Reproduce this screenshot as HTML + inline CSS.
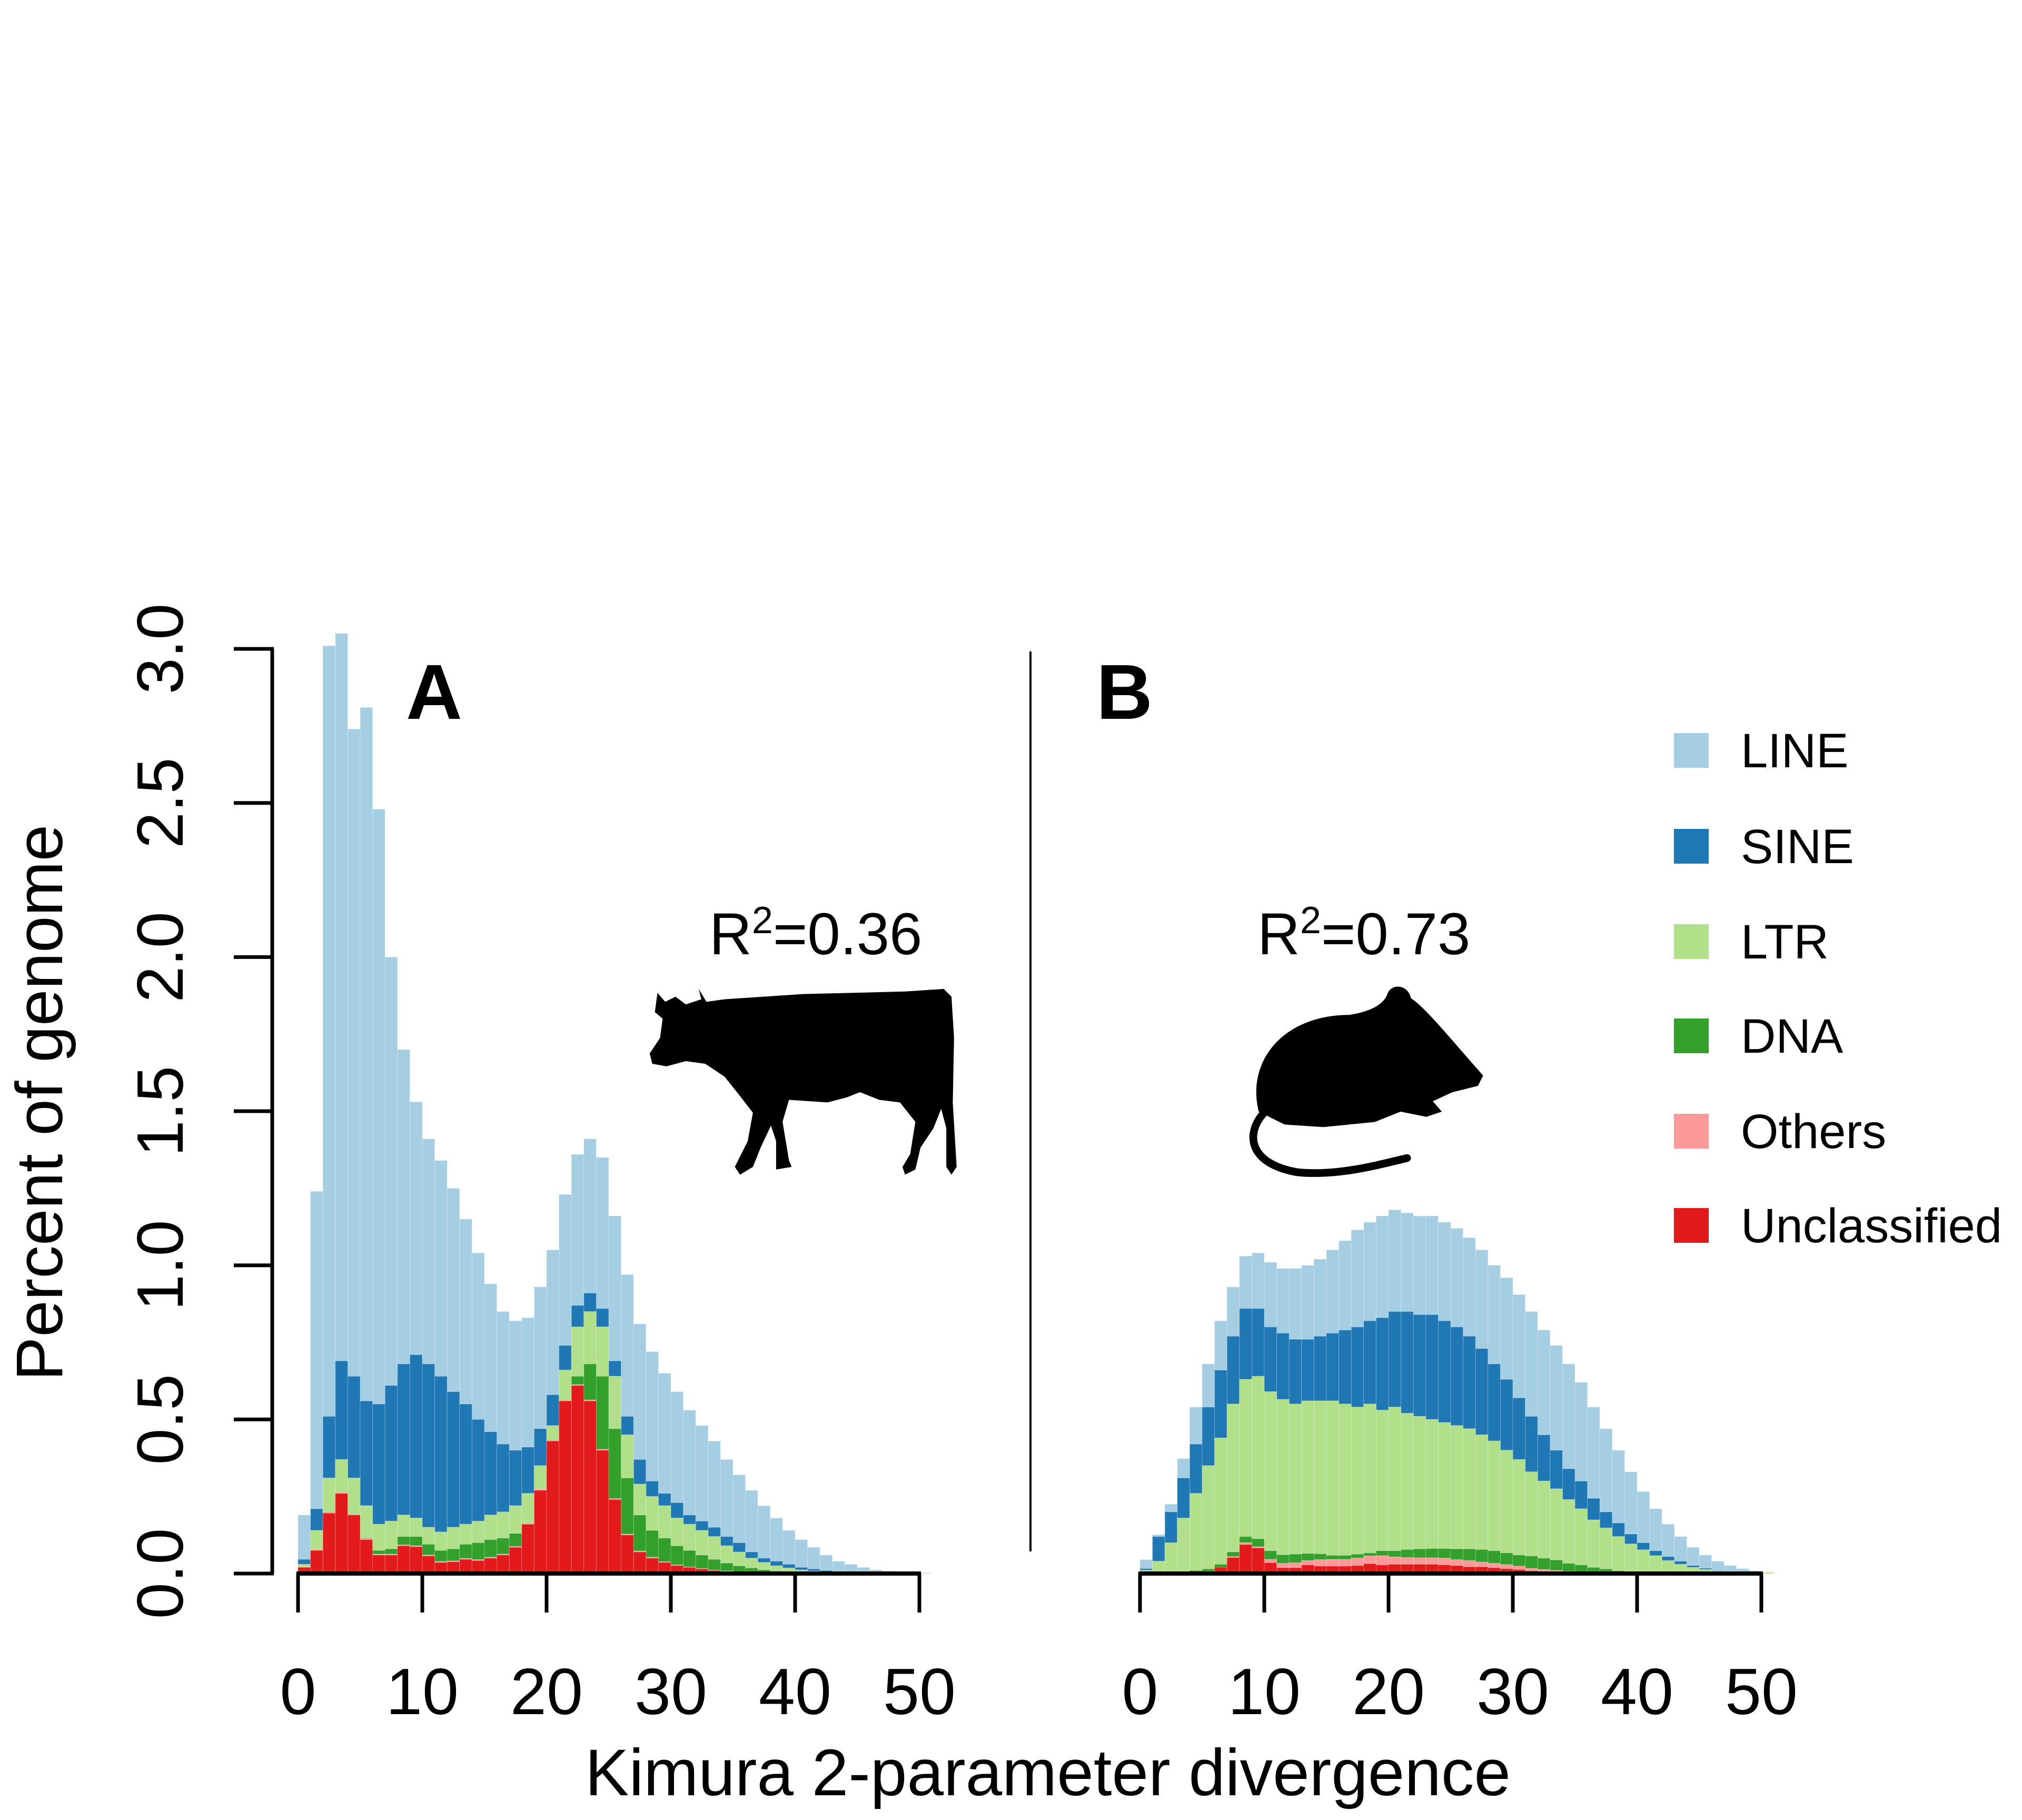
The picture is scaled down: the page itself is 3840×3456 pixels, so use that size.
<!DOCTYPE html>
<html><head><meta charset="utf-8">
<style>
html,body{margin:0;padding:0;background:#fff;}
svg{display:block;font-family:"Liberation Sans",Arial,sans-serif;}
</style></head>
<body>
<svg id="chart" width="3840" height="3456" viewBox="0 0 3840 3456" xmlns="http://www.w3.org/2000/svg">
<g id="panelA"></g>
<g id="panelB"></g>
<g id="axes"></g>
<text x="771" y="1365" font-size="148" font-weight="bold">A</text>
<text x="2082" y="1365" font-size="148" font-weight="bold">B</text>
<text x="1347" y="1812" font-size="112">R<tspan font-size="72" dy="-40">2</tspan><tspan dy="40">=0.36</tspan></text>
<text x="2388" y="1812" font-size="112">R<tspan font-size="72" dy="-40">2</tspan><tspan dy="40">=0.73</tspan></text>
<g transform="translate(1229,1873) scale(2.449)">
<path fill="#000" d="M8,5 L14,12 L22,8 L30,14 L42,10 L40,2 L46,12 L60,10 L120,6 L200,4 L230,2 L236,8 L238,40 L237,90 L240,140 L236,146 L232,140 L232,110 L228,95 L222,110 L212,125 L208,142 L200,146 L198,140 L204,130 L208,105 L196,90 L180,88 L165,82 L155,86 L140,90 L110,88 L105,105 L110,135 L112,140 L100,142 L100,120 L96,108 L88,125 L82,140 L72,146 L68,140 L78,120 L82,98 L72,85 L60,70 L45,60 L30,58 L15,62 L4,60 L2,52 L10,40 L12,25 L6,20 Z"/>
</g>
<g transform="translate(2366,1866) scale(2.449)">
<path fill="#000" d="M10,100 C0,60 30,25 80,25 C100,22 108,15 110,8 C114,0 126,2 128,12 C140,20 160,45 184,72 L180,80 L160,85 L145,92 L152,100 L140,104 L120,100 L100,108 L60,112 L30,110 Z"/>
<path fill="none" stroke="#000" stroke-width="6" stroke-linecap="round" d="M15,100 C0,115 0,140 40,147 C70,150 100,142 125,136"/>
</g>
<g id="legend"></g>
<text x="1990" y="3409" font-size="125" text-anchor="middle">Kimura 2-parameter divergence</text>
<text x="118" y="2094" font-size="125" text-anchor="middle" transform="rotate(-90 118 2094)">Percent of genome</text>
</svg>
<script>
// Stacked (cumulative) top values per bin, Kimura divergence bins 0..50
const aLineTop = [0.19,1.24,3.01,3.05,2.74,2.81,2.48,2.0,1.70,1.53,1.41,1.34,1.25,1.15,1.04,0.94,0.85,0.82,0.83,0.93,1.05,1.23,1.36,1.41,1.35,1.16,0.97,0.81,0.72,0.65,0.59,0.53,0.48,0.43,0.37,0.32,0.27,0.22,0.18,0.14,0.11,0.085,0.06,0.04,0.03,0.02,0.012,0.008,0.005,0.003,0.002];
const aSineTop = [0.046,0.21,0.51,0.69,0.64,0.56,0.55,0.61,0.68,0.71,0.68,0.64,0.59,0.55,0.50,0.46,0.42,0.40,0.41,0.47,0.58,0.74,0.87,0.91,0.86,0.69,0.51,0.37,0.30,0.26,0.23,0.19,0.17,0.15,0.12,0.10,0.07,0.05,0.04,0.03,0.02,0.015,0.01,0.007,0.005,0.003,0.002,0.001,0.001,0.001,0];
const aLtrTop = [0.03,0.14,0.31,0.37,0.31,0.22,0.16,0.17,0.19,0.18,0.15,0.135,0.15,0.16,0.17,0.19,0.20,0.22,0.26,0.35,0.48,0.66,0.80,0.85,0.80,0.64,0.45,0.29,0.25,0.22,0.18,0.16,0.14,0.12,0.09,0.07,0.05,0.036,0.025,0.018,0.012,0.008,0.005,0.003,0.002,0.001,0.001,0,0,0,0];
const aDnaTop = [0.015,0.03,0.2,0.26,0.19,0.115,0.075,0.08,0.12,0.12,0.095,0.075,0.08,0.095,0.10,0.11,0.115,0.13,0.15,0.23,0.34,0.51,0.64,0.68,0.64,0.47,0.31,0.19,0.14,0.115,0.09,0.075,0.06,0.046,0.034,0.025,0.018,0.012,0.008,0.005,0.003,0.002,0.001,0,0,0,0,0,0,0,0];
const aOthersTop = [0.022,0.078,0.199,0.263,0.193,0.113,0.063,0.063,0.093,0.09,0.06,0.039,0.041,0.049,0.045,0.053,0.063,0.088,0.163,0.273,0.433,0.563,0.613,0.563,0.403,0.243,0.128,0.073,0.053,0.038,0.028,0.021,0.016,0.011,0.008,0.006,0.003,0.002,0.001,0,0,0,0,0,0,0,0,0,0,0,0];
const aUnclTop = [0.02,0.075,0.196,0.26,0.19,0.11,0.06,0.06,0.09,0.087,0.057,0.036,0.038,0.046,0.042,0.05,0.06,0.085,0.16,0.27,0.43,0.56,0.61,0.56,0.40,0.24,0.125,0.07,0.05,0.036,0.026,0.02,0.015,0.01,0.007,0.005,0.002,0.001,0.001,0,0,0,0,0,0,0,0,0,0,0,0];

const bLineTop = [0.045,0.126,0.225,0.373,0.54,0.68,0.82,0.93,1.03,1.04,1.01,0.99,0.99,1.0,1.02,1.05,1.08,1.115,1.14,1.16,1.18,1.17,1.16,1.16,1.14,1.12,1.09,1.05,1.0,0.96,0.905,0.85,0.79,0.74,0.68,0.62,0.54,0.47,0.40,0.33,0.266,0.21,0.16,0.12,0.085,0.06,0.04,0.026,0.016,0.009,0.004];
const bSineTop = [0.016,0.12,0.2,0.31,0.42,0.54,0.66,0.77,0.86,0.86,0.80,0.78,0.76,0.76,0.77,0.78,0.79,0.80,0.82,0.83,0.85,0.85,0.84,0.84,0.82,0.80,0.77,0.73,0.68,0.63,0.57,0.51,0.45,0.40,0.34,0.30,0.244,0.20,0.164,0.128,0.10,0.074,0.055,0.04,0.026,0.017,0.011,0.007,0.004,0.002,0.004];
const bLtrTop = [0.011,0.04,0.1,0.18,0.26,0.35,0.44,0.55,0.63,0.64,0.59,0.565,0.55,0.56,0.56,0.56,0.55,0.54,0.55,0.53,0.54,0.52,0.51,0.50,0.49,0.48,0.47,0.45,0.43,0.40,0.37,0.33,0.30,0.275,0.24,0.21,0.174,0.148,0.12,0.096,0.077,0.058,0.042,0.03,0.02,0.013,0.009,0.006,0.004,0.002,0.004];
const bDnaTop = [0.002,0.003,0.005,0.007,0.01,0.015,0.03,0.07,0.12,0.113,0.074,0.061,0.063,0.065,0.064,0.059,0.059,0.063,0.067,0.074,0.074,0.078,0.08,0.081,0.081,0.08,0.08,0.078,0.074,0.067,0.06,0.057,0.05,0.044,0.033,0.028,0.02,0.015,0.009,0.005,0.003,0.002,0.001,0,0,0,0,0,0,0,0];
const bOthersTop = [0.001,0.001,0.002,0.003,0.004,0.007,0.018,0.055,0.1,0.087,0.046,0.033,0.035,0.042,0.045,0.046,0.046,0.05,0.057,0.058,0.054,0.052,0.051,0.051,0.05,0.045,0.042,0.037,0.033,0.029,0.024,0.017,0.013,0.01,0.007,0.005,0.003,0.002,0.001,0.001,0.001,0,0,0,0,0,0,0,0,0,0];
const bUnclTop = [0,0,0.001,0.002,0.004,0.008,0.02,0.052,0.094,0.083,0.035,0.019,0.019,0.028,0.024,0.024,0.024,0.026,0.032,0.028,0.03,0.03,0.03,0.03,0.028,0.026,0.022,0.022,0.019,0.016,0.013,0.009,0.006,0.004,0.003,0.002,0.001,0.001,0.001,0,0,0,0,0,0,0,0,0,0,0,0];

const seriesNames = ["LINE","SINE","LTR","DNA","Others","Unclassified"];
const seriesColors = ["#a6cee3","#1f78b4","#b2df8a","#33a02c","#fb9a99","#e31a1c"];
const yTicks = [0,0.5,1.0,1.5,2.0,2.5,3.0];
const yTickLabels = ["0.0","0.5","1.0","1.5","2.0","2.5","3.0"];
const xTicks = [0,10,20,30,40,50];

const NS = "http://www.w3.org/2000/svg";
const Y0 = 2988, YPX = 585.3, XPX = 23.6;
function yScale(v){ return Y0 - v*YPX; }
function xScaleA(v){ return 566 + v*XPX; }
function xScaleB(v){ return 2165 + v*XPX; }
function mk(tag, attrs, parent){ const e=document.createElementNS(NS,tag); for(const k in attrs) e.setAttribute(k,attrs[k]); parent.appendChild(e); return e; }

function drawPanel(g, xs, tops, prefix){
  for(let s=0;s<tops.length;s++){
    const top=tops[s], below=tops[s+1];
    for(let i=0;i<top.length;i++){
      const lo = below ? below[i] : 0;
      const hi = top[i];
      if(hi<=lo) continue;
      const r = mk("rect",{x:xs(i),y:yScale(hi),width:XPX,height:yScale(lo)-yScale(hi),fill:seriesColors[s],stroke:"rgba(255,255,255,0.25)","stroke-width":1},g);
      
      
    }
  }
}
drawPanel(document.getElementById("panelA"), xScaleA, [aLineTop,aSineTop,aLtrTop,aDnaTop,aOthersTop,aUnclTop], "a");
drawPanel(document.getElementById("panelB"), xScaleB, [bLineTop,bSineTop,bLtrTop,bDnaTop,bOthersTop,bUnclTop], "b");

const ax = document.getElementById("axes");
// y axis
let l = mk("line",{x1:517,x2:517,y1:yScale(0),y2:yScale(3),stroke:"#000","stroke-width":7},ax);


yTicks.forEach((v,i)=>{
  const t = mk("line",{x1:444,x2:520,y1:yScale(v),y2:yScale(v),stroke:"#000","stroke-width":7},ax);
  
  
  const tx = mk("text",{x:347,y:yScale(v),"font-size":124,"text-anchor":"middle",transform:"rotate(-90 347 "+yScale(v)+")"},ax);
  tx.textContent = yTickLabels[i];
  
  
});
// x axes
[["a",xScaleA],["b",xScaleB]].forEach(([p,xs])=>{
  const a = mk("line",{x1:xs(0)-3,x2:xs(50)+3,y1:Y0,y2:Y0,stroke:"#000","stroke-width":8},ax);
  
  
  xTicks.forEach(v=>{
    const t = mk("line",{x1:xs(v),x2:xs(v),y1:Y0,y2:3062,stroke:"#000","stroke-width":7},ax);
    
    
    const tx = mk("text",{x:xs(v),y:3255,"font-size":124,"text-anchor":"middle"},ax);
    tx.textContent = String(v);
    
    
  });
});
// divider
const d = mk("line",{x1:1957,x2:1957,y1:1237,y2:2946,stroke:"#000","stroke-width":4},ax);



// legend
const lg = document.getElementById("legend");
const legendY = [1425,1607,1788,1967,2148,2327];
seriesNames.forEach((n,i)=>{
  const r = mk("rect",{x:3179,y:legendY[i]-33,width:66,height:66,fill:seriesColors[i]},lg);
  
  
  const t = mk("text",{x:3306,y:legendY[i]+32,"font-size":92},lg);
  t.textContent = n;
  
  
});
</script>
</body></html>
